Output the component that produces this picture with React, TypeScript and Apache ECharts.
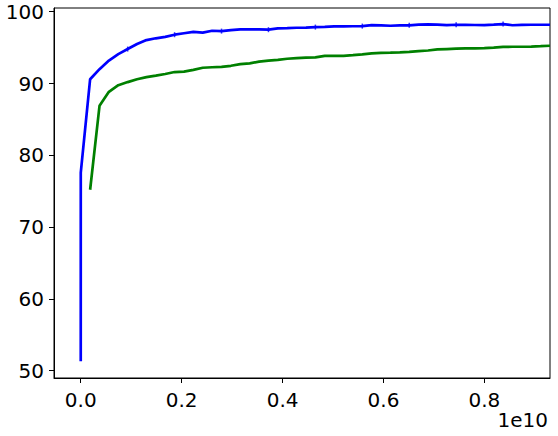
import React, { useEffect, useRef } from "react";
import * as echarts from "echarts";

// samples seen per evaluation step (x axis is in samples, shown in units of 1e10)
const SAMPLES_PER_EPOCH = 1.86e8;
const epochs = [
  0, 1, 2, 3, 4, 5, 6, 7, 8, 9, 10, 11, 12, 13, 14, 15, 16, 17, 18, 19, 20,
  21, 22, 23, 24, 25, 26, 27, 28, 29, 30, 31, 32, 33, 34, 35, 36, 37, 38, 39, 40,
  41, 42, 43, 44, 45, 46, 47, 48, 49, 50,
];
// first blue evaluation points (very early)
const blueEarly = [
  [0, 51.3],
  [0.003, 77.6],
];
// blue accuracy at epochs 1..50
const blueAcc = [
  90.6, 92.0, 93.2, 94.1, 94.8, 95.5, 96.05, 96.3, 96.5, 96.8,
  97.0, 97.2, 97.1, 97.35, 97.3, 97.45, 97.55, 97.55, 97.55, 97.5,
  97.68, 97.72, 97.77, 97.8, 97.86, 97.9, 97.95, 97.96, 97.98, 98.0,
  98.14, 98.1, 98.05, 98.1, 98.1, 98.2, 98.24, 98.2, 98.14, 98.19,
  98.18, 98.15, 98.14, 98.2, 98.28, 98.12, 98.17, 98.19, 98.19, 98.19,
];
// green accuracy at epochs 1..50
const greenAcc = [
  75.2, 86.9, 88.85, 89.77, 90.2, 90.6, 90.9, 91.1, 91.33, 91.6,
  91.65, 91.9, 92.2, 92.27, 92.33, 92.47, 92.7, 92.8, 93.05, 93.2,
  93.3, 93.45, 93.55, 93.6, 93.64, 93.86, 93.86, 93.86, 93.95, 94.05,
  94.2, 94.28, 94.3, 94.33, 94.4, 94.5, 94.6, 94.75, 94.8, 94.85,
  94.9, 94.9, 94.93, 95.0, 95.1, 95.12, 95.12, 95.15, 95.2, 95.26,
];
// epochs carrying the small blue tick markers
const blueMarkEpochs = [5, 10, 15, 20, 25, 30, 35, 40, 45];

const xTickLabels = [0, 0.2, 0.4, 0.6, 0.8];
const yTickLabels = [50, 60, 70, 80, 90, 100];

export default function App() {
  const ref = useRef<HTMLDivElement>(null);
  useEffect(() => {
    if (!ref.current) return;
    const chart = echarts.init(ref.current, null, { renderer: "svg" });
    const S = SAMPLES_PER_EPOCH;
    const blueData = [
      ...blueEarly.map(([e, v]) => [e * S, v]),
      ...blueAcc.map((v, i) => [epochs[i + 1] * S, v]),
    ];
    const greenData = greenAcc.map((v, i) => [epochs[i + 1] * S, v]);
    const markData = blueMarkEpochs.map((e) => [e * S, blueAcc[e - 1]]);
    const font = { fontFamily: "DejaVu Sans", fontSize: 20, color: "#000" };
    chart.setOption({
      animation: false,
      grid: {
        left: 54,
        top: 8,
        right: 8,
        bottom: 58,
        show: true,
        borderColor: "#000",
        borderWidth: 1,
        backgroundColor: "transparent",
      },
      xAxis: {
        type: "value",
        min: -0.053e10,
        max: 0.93e10,
        splitLine: { show: false },
        axisLine: { show: true, onZero: false, lineStyle: { color: "#000", width: 1 } },
        axisTick: {
          show: true,
          length: 5,
          lineStyle: { color: "#000" },
          customValues: xTickLabels.map((v) => v * 1e10),
        },
        axisLabel: {
          ...font,
          margin: 12,
          customValues: xTickLabels.map((v) => v * 1e10),
          formatter: (v: number) => (v / 1e10).toFixed(1),
        },
      },
      yAxis: {
        type: "value",
        min: 48.98,
        max: 100.52,
        splitLine: { show: false },
        axisLine: { show: true, onZero: false, lineStyle: { color: "#000", width: 1 } },
        axisTick: {
          show: true,
          length: 5,
          lineStyle: { color: "#000" },
          customValues: yTickLabels,
        },
        axisLabel: {
          ...font,
          margin: 10,
          customValues: yTickLabels,
          formatter: (v: number) => String(v),
        },
      },
      graphic: [
        {
          type: "text",
          right: 10,
          top: 410,
          style: { text: "1e10", font: "20px 'DejaVu Sans'", fill: "#000" },
        },
      ],
      series: [
        {
          type: "line",
          data: blueData,
          showSymbol: false,
          lineStyle: { color: "#0000ff", width: 2.7 },
          itemStyle: { color: "#0000ff" },
          z: 3,
        },
        {
          type: "line",
          data: greenData,
          showSymbol: false,
          lineStyle: { color: "#008000", width: 2.7 },
          itemStyle: { color: "#008000" },
          z: 2,
        },
        {
          type: "scatter",
          data: markData,
          symbol: "rect",
          symbolSize: [1.5, 5],
          itemStyle: { color: "#0000ff" },
          z: 4,
        },
      ],
    });
    return () => chart.dispose();
  }, []);
  return (
    <div
      ref={ref}
      style={{ position: "absolute", left: 0, top: 0, width: 558, height: 436 }}
    />
  );
}
